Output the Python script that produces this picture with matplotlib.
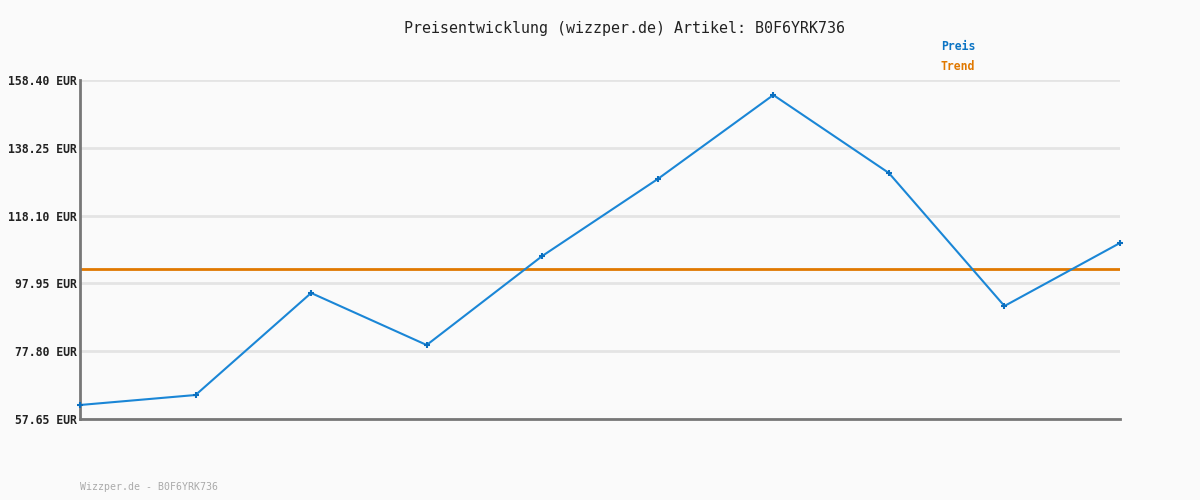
import matplotlib
matplotlib.use("Agg")
import matplotlib.pyplot as plt

# price history
points = list(range(10))
prices = [61.81, 64.78, 95.10, 79.64, 106.09, 128.98, 153.94, 130.76, 91.23, 109.96]
trend = 102.23
yticks = [57.65, 77.80, 97.95, 118.10, 138.25, 158.40]
ytick_labels = ["%.2f EUR" % v for v in yticks]

title = "Preisentwicklung (wizzper.de) Artikel: B0F6YRK736"
footer = "Wizzper.de - B0F6YRK736"

bg = "#fafafa"
blue = "#1a86d6"
orange = "#e07800"

plt.rcParams["font.family"] = ["DejaVu Sans Mono"]

fig = plt.figure(figsize=(12, 5), dpi=100, facecolor=bg)
ax = fig.add_axes([80 / 1200, 1 - 419 / 500, 1040 / 1200, 339 / 500])
ax.set_facecolor(bg)

ax.plot(points, prices, color=blue, lw=1.5, marker="+", ms=4.5, mew=1.5,
        mec="#0b6fbf", zorder=3, clip_on=False)
ax.axhline(trend, color=orange, lw=2, zorder=2)

ax.set_xlim(points[0], points[-1])
ax.set_ylim(yticks[0], yticks[-1])
ax.set_yticks(yticks)
ax.set_yticklabels(ytick_labels, fontsize=8.3, fontweight="bold", color="#222222")
ax.set_xticks([])
ax.tick_params(axis="y", length=0, pad=2)
ax.grid(axis="y", color="#e4e4e4", lw=2, zorder=0)
ax.set_axisbelow(True)

for s in ["top", "right"]:
    ax.spines[s].set_visible(False)
for s in ["left", "bottom"]:
    ax.spines[s].set_color("#777777")
    ax.spines[s].set_linewidth(2)

fig.text(0.52, 1 - 28 / 500, title, ha="center", va="center", fontsize=10.8, color="#222222")
fig.text(975 / 1200, 1 - 46 / 500, "Preis", ha="right", va="center", fontsize=8.3,
         fontweight="bold", color="#0b74c4")
fig.text(975 / 1200, 1 - 67 / 500, "Trend", ha="right", va="center", fontsize=8.3,
         fontweight="bold", color=orange)
fig.text(80 / 1200, 1 - 487 / 500, footer, ha="left", va="center", fontsize=7.1, color="#aaaaaa")

fig.savefig("out.png", dpi=100, facecolor=bg)
